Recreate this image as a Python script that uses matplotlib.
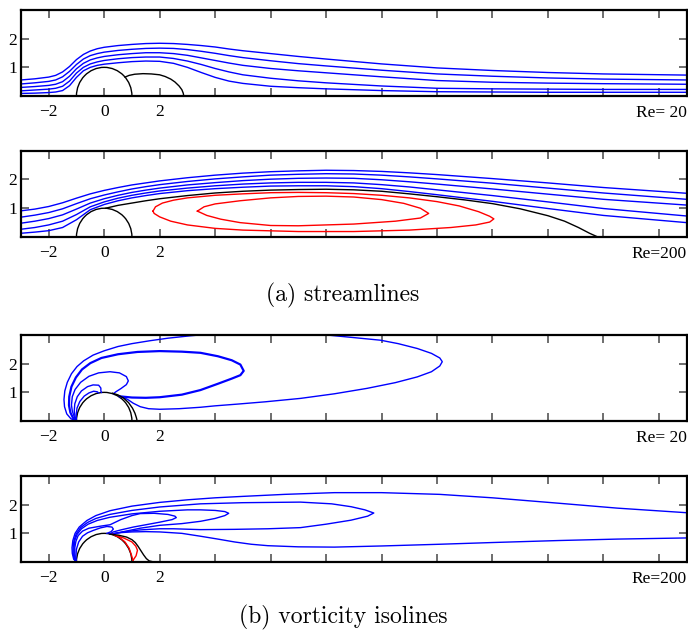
import matplotlib
matplotlib.use("Agg")
import matplotlib.pyplot as plt
from matplotlib.patches import Arc

plt.rcParams['font.family'] = ['Liberation Serif', 'DejaVu Serif']

# ---------------- (a) streamlines, Re = 20 ----------------
sx1 = [-3, -2.5, -2, -1.75, -1.5, -1.25, -1, -0.75, -0.5, -0.25, 0, 0.5, 1, 1.5, 2, 2.5, 3, 3.5,
       4, 4.5, 5, 6, 7, 8, 10, 12, 14, 16, 18, 21]
s1_lines = [
    [0.56, 0.60, 0.66, 0.72, 0.84, 1.03, 1.27, 1.45, 1.57, 1.65, 1.70, 1.76, 1.80, 1.83, 1.84, 1.83, 1.80, 1.76,
     1.71, 1.64, 1.58, 1.48, 1.38, 1.29, 1.12, 0.98, 0.89, 0.82, 0.77, 0.73],
    [0.42, 0.46, 0.51, 0.56, 0.67, 0.86, 1.10, 1.29, 1.41, 1.48, 1.53, 1.59, 1.63, 1.66, 1.67, 1.66, 1.62, 1.56,
     1.49, 1.41, 1.34, 1.23, 1.13, 1.05, 0.90, 0.77, 0.69, 0.63, 0.59, 0.56],
    [0.30, 0.33, 0.37, 0.41, 0.50, 0.69, 0.95, 1.14, 1.26, 1.33, 1.38, 1.44, 1.48, 1.51, 1.51, 1.48, 1.42, 1.33,
     1.24, 1.15, 1.07, 0.96, 0.88, 0.81, 0.67, 0.54, 0.48, 0.45, 0.43, 0.41],
    [0.18, 0.21, 0.24, 0.27, 0.34, 0.52, 0.80, 1.00, 1.12, 1.19, 1.24, 1.30, 1.34, 1.36, 1.36, 1.31, 1.22, 1.10,
     0.96, 0.84, 0.74, 0.62, 0.53, 0.46, 0.35, 0.27, 0.25, 0.24, 0.23, 0.23],
    [0.09, 0.10, 0.12, 0.14, 0.19, 0.36, 0.65, 0.88, 1.00, 1.07, 1.11, 1.16, 1.20, 1.22, 1.21, 1.14, 1.00, 0.82,
     0.65, 0.52, 0.44, 0.34, 0.29, 0.25, 0.19, 0.15, 0.14, 0.13, 0.13, 0.13],
]
sep1_x = [0.75, 0.9, 1.1, 1.4, 1.7, 2.0, 2.2, 2.4, 2.55, 2.7, 2.8, 2.85, 2.87]
sep1_y = [0.66, 0.72, 0.76, 0.78, 0.77, 0.74, 0.68, 0.59, 0.49, 0.35, 0.22, 0.10, 0.0]

# ---------------- (a) streamlines, Re = 200 ----------------
sx2 = [-3, -2.5, -2, -1.5, -1, -0.5, 0, 0.5, 1, 1.5, 2, 3, 4, 5, 6, 7, 8, 9, 10, 11, 12, 14, 16, 18, 21]
s2_lines = [
    [0.91, 0.97, 1.06, 1.19, 1.35, 1.50, 1.62, 1.72, 1.81, 1.88, 1.95, 2.06, 2.15, 2.22, 2.27, 2.30, 2.32,
     2.31, 2.28, 2.23, 2.17, 2.03, 1.88, 1.72, 1.52],
    [0.69, 0.76, 0.85, 0.98, 1.16, 1.33, 1.46, 1.57, 1.67, 1.75, 1.82, 1.93, 2.02, 2.09, 2.15, 2.18, 2.20,
     2.19, 2.15, 2.09, 2.02, 1.87, 1.70, 1.53, 1.31],
    [0.48, 0.55, 0.64, 0.77, 0.97, 1.18, 1.33, 1.45, 1.55, 1.63, 1.70, 1.81, 1.89, 1.96, 2.01, 2.04, 2.05,
     2.04, 1.99, 1.92, 1.84, 1.67, 1.49, 1.31, 1.11],
    [0.27, 0.33, 0.42, 0.55, 0.78, 1.05, 1.22, 1.35, 1.45, 1.53, 1.60, 1.70, 1.78, 1.84, 1.88, 1.90, 1.90,
     1.88, 1.82, 1.74, 1.64, 1.44, 1.22, 0.99, 0.73],
    [0.13, 0.17, 0.22, 0.33, 0.60, 0.95, 1.13, 1.26, 1.36, 1.44, 1.51, 1.61, 1.68, 1.73, 1.77, 1.78, 1.78,
     1.75, 1.68, 1.58, 1.47, 1.24, 0.99, 0.75, 0.50],
]
sep2_x = [0.05, 0.5, 1, 1.5, 2, 3, 4, 5, 6, 7, 8, 9, 10, 11, 12, 13, 14, 15, 16, 16.6, 17.1, 17.5, 17.8]
sep2_y = [1.0, 1.1, 1.18, 1.26, 1.33, 1.44, 1.53, 1.59, 1.63, 1.65, 1.66, 1.64, 1.59, 1.50, 1.40, 1.29,
          1.16, 0.98, 0.74, 0.55, 0.33, 0.13, 0.0]
eddy_out_x = [1.76, 1.85, 2.1, 2.5, 3, 4, 5, 6, 7, 8, 9, 10, 11, 12, 12.8, 13.5, 13.9, 14.05, 13.9, 13.4,
              12.5, 11, 9, 7, 5, 4, 3, 2.4, 2.0, 1.8, 1.76]
eddy_out_y = [0.90, 1.05, 1.18, 1.28, 1.36, 1.45, 1.50, 1.54, 1.55, 1.54, 1.51, 1.45, 1.36, 1.23, 1.08, 0.88,
              0.72, 0.63, 0.52, 0.42, 0.33, 0.24, 0.19, 0.19, 0.24, 0.30, 0.42, 0.55, 0.70, 0.82, 0.90]
eddy_in_x = [3.36, 3.6, 4.0, 4.9, 6, 7, 8, 9, 10, 10.8, 11.4, 11.7, 11.4, 10.5, 9, 7, 6, 4.9, 4.2, 3.7, 3.36]
eddy_in_y = [0.90, 1.05, 1.15, 1.26, 1.36, 1.41, 1.42, 1.39, 1.30, 1.17, 1.00, 0.82, 0.66, 0.55, 0.45, 0.39,
             0.40, 0.50, 0.62, 0.75, 0.90]

# ---------------- (b) vorticity, Re = 20 ----------------
v1_curves = [
    ([-1.0, -1.2, -1.35, -1.43, -1.45, -1.42, -1.33, -1.18, -0.98, -0.74, -0.4, 0.0, 0.5, 1.0, 1.64, 2.3, 3.07,
      4.0, 6.0, 8.04, 8.9, 9.96, 10.6, 11.29, 11.8, 12.1, 12.19, 12.1, 11.8, 11.29, 10.5, 9.48, 8.3, 7.08, 5.8,
      4.8, 4.0, 3.47, 2.7, 2.0, 1.6, 1.3, 1.05, 0.85, 0.7, 0.55],
     [0.0, 0.08, 0.25, 0.5, 0.75, 1.05, 1.35, 1.65, 1.90, 2.10, 2.30, 2.45, 2.60, 2.70, 2.80, 2.89, 2.97,
      3.05, 3.12, 3.0, 2.92, 2.82, 2.70, 2.53, 2.36, 2.2, 2.07, 1.92, 1.72, 1.54, 1.34, 1.14, 0.95, 0.79, 0.67,
      0.59, 0.53, 0.48, 0.43, 0.41, 0.43, 0.50, 0.62, 0.75, 0.82, 0.86]),
    ([-1.0, -1.12, -1.22, -1.27, -1.26, -1.18, -1.02, -0.8, -0.5, -0.1, 0.5, 1.2, 2.0, 2.8, 3.47, 4.1, 4.6,
      4.91, 5.03, 4.91, 4.6, 4.1, 3.47, 2.8, 2.0, 1.5, 1.0, 0.57],
     [0.0, 0.1, 0.3, 0.55, 0.85, 1.2, 1.52, 1.80, 2.02, 2.2, 2.33, 2.41, 2.44, 2.42, 2.38, 2.26, 2.12,
      1.97, 1.75, 1.60, 1.48, 1.30, 1.08, 0.92, 0.83, 0.81, 0.82, 0.86]),
    ([-1.0, -1.08, -1.15, -1.18, -1.15, -1.05, -0.85, -0.55, -0.2, 0.21, 0.55, 0.8, 0.87, 0.8, 0.6, 0.42, 0.33],
     [0.0, 0.15, 0.35, 0.56, 0.85, 1.1, 1.35, 1.56, 1.68, 1.72, 1.68, 1.55, 1.40, 1.27, 1.13, 1.02, 0.95]),
    ([-1.0, -1.05, -1.08, -1.06, -0.97, -0.82, -0.6, -0.4, -0.2, -0.12, -0.12, -0.1],
     [0.0, 0.15, 0.35, 0.6, 0.85, 1.05, 1.2, 1.26, 1.25, 1.15, 1.05, 0.995]),
    ([-1.0, -1.01, -0.98, -0.88, -0.72, -0.55, -0.38, -0.25, -0.2],
     [0.0, 0.2, 0.45, 0.68, 0.87, 0.98, 1.04, 1.02, 0.98]),
]
v1_widths = [1.0, 1.6, 1.0, 1.0, 1.0]
v1_black_x = [0.3, 0.5, 0.7, 0.88, 1.02, 1.11, 1.16, 1.19]
v1_black_y = [0.97, 0.91, 0.80, 0.64, 0.45, 0.27, 0.12, 0.0]

# ---------------- (b) vorticity, Re = 200 ----------------
v2_curves = [
    ([-1.0, -1.1, -1.15, -1.16, -1.13, -1.05, -0.9, -0.62, -0.3, 0.21, 1.0, 2.0, 3.0, 4.0, 5.0, 6.5, 8.3, 10.0,
      12.1, 14.0, 16.4, 18.5, 21.0],
     [0.0, 0.1, 0.3, 0.5, 0.75, 1.0, 1.22, 1.45, 1.62, 1.79, 1.95, 2.08, 2.17, 2.24, 2.29, 2.36, 2.42, 2.42,
      2.36, 2.24, 2.05, 1.88, 1.72]),
    ([-1.0, -1.08, -1.12, -1.12, -1.09, -1.01, -0.85, -0.6, -0.3, 0.2, 1.0, 2.0, 3.47, 5.0, 7.08, 8.2, 8.9,
      9.4, 9.72, 9.5, 8.9, 8.0, 7.08, 5.9, 4.7, 3.47, 2.5, 2.0, 1.3, 0.7, 0.25],
     [0.0, 0.1, 0.3, 0.5, 0.75, 0.98, 1.2, 1.38, 1.52, 1.66, 1.80, 1.92, 2.03, 2.07, 2.09, 2.03, 1.93,
      1.82, 1.71, 1.60, 1.46, 1.32, 1.20, 1.16, 1.14, 1.13, 1.16, 1.16, 1.12, 1.05, 0.97]),
    ([-1.0, -1.06, -1.09, -1.09, -1.06, -0.98, -0.82, -0.58, -0.25, 0.2, 1.0, 2.0, 3.0, 3.47, 4.0, 4.35, 4.49,
      4.35, 4.0, 3.47, 2.8, 2.0, 1.3, 0.7, 0.25],
     [0.0, 0.1, 0.3, 0.5, 0.75, 0.96, 1.16, 1.32, 1.45, 1.56, 1.68, 1.77, 1.82, 1.82, 1.80, 1.76, 1.70,
      1.62, 1.52, 1.42, 1.34, 1.28, 1.18, 1.06, 0.97]),
    ([-1.0, -1.04, -1.06, -1.06, -1.02, -0.94, -0.78, -0.55, -0.14, 0.21, 0.6, 1.0, 1.3, 1.8, 2.3, 2.55, 2.6,
      2.45, 2.0, 1.5, 1.05, 0.6, 0.33, 0.2],
     [0.0, 0.1, 0.3, 0.5, 0.72, 0.92, 1.08, 1.18, 1.25, 1.30, 1.48, 1.62, 1.69, 1.70, 1.66, 1.60, 1.55,
      1.48, 1.39, 1.30, 1.22, 1.12, 1.05, 0.98]),
    ([-1.0, -1.02, -1.0, -0.92, -0.78, -0.6, -0.4, -0.14, 0.1, 0.28, 0.33, 0.25, 0.1],
     [0.0, 0.2, 0.45, 0.7, 0.9, 1.02, 1.1, 1.19, 1.24, 1.22, 1.15, 1.06, 1.0]),
    ([0.21, 0.5, 1.0, 1.5, 2.0, 2.8, 3.47, 4.1, 4.7, 5.3, 5.9, 7.0, 8.3, 10.0, 12.1, 14.0, 16.4, 18.5, 21.0],
     [0.97, 1.02, 1.05, 1.06, 1.05, 1.0, 0.90, 0.80, 0.70, 0.62, 0.57, 0.53, 0.52, 0.56, 0.62, 0.68, 0.75,
      0.80, 0.84]),
]
v2_red = [
    ([0.3, 0.55, 0.75, 0.9, 0.98, 1.02, 1.04], [0.97, 0.86, 0.70, 0.48, 0.25, 0.12, 0.06]),
    ([0.4, 0.7, 1.0, 1.14, 1.2, 1.15, 1.04], [0.93, 0.84, 0.70, 0.55, 0.41, 0.22, 0.06]),
]
v2_black_x = [0.21, 0.5, 0.81, 1.0, 1.12, 1.22, 1.32, 1.42, 1.52, 1.62, 1.75, 2.0, 2.36]
v2_black_y = [0.97, 0.94, 0.87, 0.78, 0.68, 0.55, 0.40, 0.25, 0.12, 0.04, 0.01, 0.0, 0.0]

xticks = list(range(-2, 21, 2))
xlabels = ['\u22122', '0', '2'] + [''] * (len(xticks) - 3)

BLUE = '#0000ff'
RED = '#ff0000'
LW = 1.0


def setup(ax, label):
    ax.set_xlim(-3, 21)
    ax.set_ylim(0, 3)
    ax.set_xticks(xticks, xlabels)
    ax.set_yticks([1, 2], ['1', '2'])
    ax.tick_params(direction='in', length=6, width=1.2, color='#555555',
                   top=True, right=True, labelsize=12.5, pad=6)
    ax.tick_params(axis='y', pad=3)
    for s in ax.spines.values():
        s.set_linewidth(1.6)
    ax.add_patch(Arc((0, 0), 2, 2, theta1=0, theta2=180, color='black', lw=LW))
    ax.text(1.0, -0.2, label, transform=ax.transAxes, ha='right', va='center', fontsize=12.5)


fig = plt.figure(figsize=(6.88, 6.30), dpi=100)
ax1 = fig.add_axes([0.0305, 0.8476, 0.9675, 0.1365])
ax2 = fig.add_axes([0.0305, 0.6238, 0.9675, 0.1370])
ax3 = fig.add_axes([0.0305, 0.3317, 0.9675, 0.1365])
ax4 = fig.add_axes([0.0305, 0.1079, 0.9675, 0.1365])

setup(ax1, 'Re= 20')
for ys in s1_lines:
    ax1.plot(sx1, ys, color=BLUE, lw=LW)
ax1.plot(sep1_x, sep1_y, color='black', lw=LW)

setup(ax2, 'Re=200')
for ys in s2_lines:
    ax2.plot(sx2, ys, color=BLUE, lw=LW)
ax2.plot(sep2_x, sep2_y, color='black', lw=LW)
ax2.plot(eddy_out_x, eddy_out_y, color=RED, lw=LW)
ax2.plot(eddy_in_x, eddy_in_y, color=RED, lw=LW)

setup(ax3, 'Re= 20')
for (xs, ys), w in zip(v1_curves, v1_widths):
    ax3.plot(xs, ys, color=BLUE, lw=w)
ax3.plot(v1_black_x, v1_black_y, color='black', lw=LW)

setup(ax4, 'Re=200')
for xs, ys in v2_curves:
    ax4.plot(xs, ys, color=BLUE, lw=LW)
for xs, ys in v2_red:
    ax4.plot(xs, ys, color=RED, lw=LW)
ax4.plot(v2_black_x, v2_black_y, color='black', lw=LW)

fig.text(0.498, 1 - 295 / 630, '(a) streamlines', family='cmr10', fontsize=17,
         ha='center', va='center')
fig.text(0.499, 1 - 617 / 630, '(b) vorticity isolines', family='cmr10', fontsize=17,
         ha='center', va='center')

fig.savefig('out.png', dpi=100)
